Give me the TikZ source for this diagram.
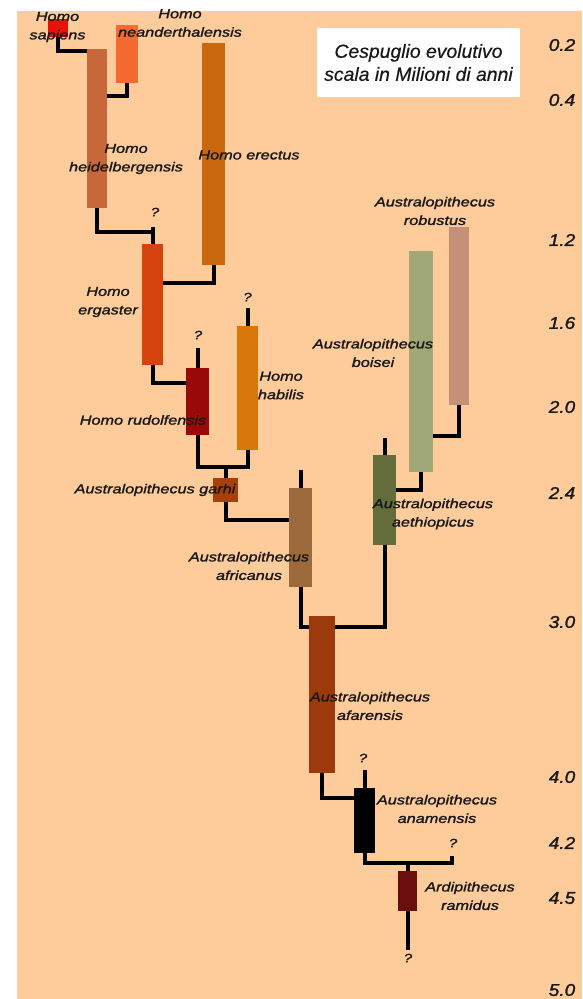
\documentclass[tikz,border=0pt]{standalone}
\usepackage{fontspec}
\setmainfont{Liberation Sans}
\newfontfamily\labf[FakeStretch=1.25,FakeBold=1.6]{Liberation Sans}
\newfontfamily\sclf[FakeStretch=1.12,FakeBold=1.4]{Liberation Sans}
\newfontfamily\titf[FakeStretch=1.02,FakeBold=0.5]{Liberation Sans}
\usetikzlibrary{calc,backgrounds}
\definecolor{bgpeach}{HTML}{FECB9A}
\definecolor{txtc}{HTML}{181818}
\definecolor{csap}{HTML}{E8100A}
\definecolor{cnea}{HTML}{F46A30}
\definecolor{cheid}{HTML}{C8683A}
\definecolor{cerec}{HTML}{C9680E}
\definecolor{cerg}{HTML}{D4420E}
\definecolor{crud}{HTML}{9A0A0A}
\definecolor{chab}{HTML}{D8780A}
\definecolor{cgar}{HTML}{A8400A}
\definecolor{cafr}{HTML}{9C6A3A}
\definecolor{cafa}{HTML}{9C3A0C}
\definecolor{cana}{HTML}{000000}
\definecolor{cram}{HTML}{6A0E0E}
\definecolor{cboi}{HTML}{A0A878}
\definecolor{crob}{HTML}{C49078}
\definecolor{caeth}{HTML}{646C3C}
\begin{document}
\begin{tikzpicture}[x=1pt,y=-1pt,
  box/.style={rectangle,draw=none,inner sep=0pt,outer sep=0pt},
  conn/.style={line width=4pt,black},
  lab/.style={font=\labf\itshape\fontsize{13}{18.5}\selectfont,text=txtc,align=center,inner sep=0pt},
  qm/.style={font=\labf\itshape\fontsize{12}{12}\selectfont,text=txtc,inner sep=0pt},
  scl/.style={font=\sclf\itshape\fontsize{17}{18}\selectfont,text=txtc,inner sep=0pt}]
\useasboundingbox (0,0) rectangle (582,999);
% boxes
\node[box,fill=csap, minimum width=20pt,minimum height=18pt]  (sap)  at (58,28) {};
\node[box,fill=cnea, minimum width=22pt,minimum height=58pt]  (nea)  at (127,54) {};
\node[box,fill=cheid,minimum width=20pt,minimum height=159pt] (heid) at (97,128.5) {};
\node[box,fill=cerec,minimum width=23pt,minimum height=222pt] (erec) at (213.5,154) {};
\node[box,fill=cerg, minimum width=21pt,minimum height=121pt] (erg)  at (152.5,304.5) {};
\node[box,fill=crud, minimum width=23pt,minimum height=67pt]  (rud)  at (197.5,401.5) {};
\node[box,fill=chab, minimum width=21pt,minimum height=124pt] (hab)  at (247.5,388) {};
\node[box,fill=cgar, minimum width=25pt,minimum height=24pt]  (gar)  at (225.5,490) {};
\node[box,fill=cafr, minimum width=23pt,minimum height=99pt]  (afr)  at (300.5,537.5) {};
\node[box,fill=caeth,minimum width=23pt,minimum height=90pt]  (aeth) at (384.5,500) {};
\node[box,fill=cboi, minimum width=24pt,minimum height=221pt] (boi)  at (421,361.5) {};
\node[box,fill=crob, minimum width=20pt,minimum height=178pt] (rob)  at (459,316) {};
\node[box,fill=cafa, minimum width=26pt,minimum height=157pt] (afa)  at (322,694.5) {};
\node[box,fill=cana, minimum width=21pt,minimum height=65pt]  (ana)  at (364.5,820.5) {};
\node[box,fill=cram, minimum width=19pt,minimum height=40pt]  (ram)  at (407.5,891) {};
% coordinates
\coordinate (qerg) at (152.5,227);
\coordinate (qrud) at (197.5,348);
\coordinate (qhab) at (247.5,308);
\coordinate (qafr) at (300.5,470);
\coordinate (qaeth) at (384.5,438);
\coordinate (qana) at (364.5,770);
\coordinate (qrt) at (452,856);
\coordinate (qram) at (407.5,950);
\coordinate (j1) at (225.5,467);
\coordinate (j2) at (322,627);
\coordinate (j3) at (407.5,863);
\begin{scope}[on background layer]
\fill[white] (0,0) rectangle (582,999);
\fill[bgpeach] (17,11) rectangle (582,999);
\draw[conn] (sap.south) |- ($(heid.north west)+(0,2)$);
\draw[conn] (nea.south) |- ($(heid.north east)+(0,47)$);
\draw[conn] (heid.south) |- ($(erg.north)+(2,-12)$);
\draw[conn] (erg.north) -- (qerg);
\draw[conn] (erec.south) |- ($(erg.north east)+(0,39)$);
\draw[conn] (erg.south) |- ($(rud.north west)+(0,15)$);
\draw[conn] (rud.north) -- (qrud);
\draw[conn] (hab.north) -- (qhab);
\draw[conn] (rud.south) |- (j1) -| (hab.south);
\draw[conn] (gar.north) -- (j1);
\draw[conn] (gar.south) |- ($(afr.north west)+(0,32)$);
\draw[conn] (afr.north) -- (qafr);
\draw[conn] (aeth.north) -- (qaeth);
\draw[conn] (rob.south) |- ($(boi.north east)+(0,185)$);
\draw[conn] (boi.south) |- ($(aeth.north east)+(0,35)$);
\draw[conn] (afr.south) |- (j2) -| (aeth.south);
\draw[conn] (afa.south) |- ($(ana.north west)+(0,10)$);
\draw[conn] (ana.north) -- (qana);
\draw[conn] (ana.south) |- (j3) -| (qrt);
\draw[conn] (ram.north) -- (j3);
\draw[conn] (ram.south) -- (qram);
\end{scope}
% title
\node[box,fill=white,minimum width=203pt,minimum height=69pt,align=center,
  font=\titf\itshape\fontsize{19}{23}\selectfont,text=txtc] (title) at (418.5,62.5)
  {Cespuglio evolutivo\\scala in Milioni di anni};
% labels
\node[lab] (lsap)  at (57.5,27)  {Homo\\sapiens};
\node[lab] (lnea)  at (180,23)   {Homo\\neanderthalensis};
\node[lab] (lheid) at (126,159)  {Homo\\heidelbergensis};
\node[lab] (lerec) at (249,155)  {Homo erectus};
\node[lab] (lerg)  at (108,302)  {Homo\\ergaster};
\node[lab] (lrud)  at (143,420)  {Homo rudolfensis};
\node[lab] (lhab)  at (281,385.5){Homo\\habilis};
\node[lab] (lgar)  at (155,490)  {Australopithecus garhi};
\node[lab] (lafr)  at (249,566)  {Australopithecus\\africanus};
\node[lab] (lboi)  at (373,353)  {Australopithecus\\boisei};
\node[lab] (lrob)  at (435,211)  {Australopithecus\\robustus};
\node[lab] (laeth) at (433,514)  {Australopithecus\\aethiopicus};
\node[lab] (lafa)  at (370,706)  {Australopithecus\\afarensis};
\node[lab] (lana)  at (437,809)  {Australopithecus\\anamensis};
\node[lab] (lram)  at (470,896)  {Ardipithecus\\ramidus};
% question marks
\node[qm] (t1) at (155,212) {?};
\node[qm] (t2) at (198,335) {?};
\node[qm] (t3) at (247.5,297) {?};
\node[qm] (t4) at (363,758) {?};
\node[qm] (t5) at (453,843) {?};
\node[qm] (t6) at (408,958) {?};
% scale
\node[scl] (s1) at (562,45)  {0.2};
\node[scl] (s2) at (562,100) {0.4};
\node[scl] (s3) at (562,240) {1.2};
\node[scl] (s4) at (562,323) {1.6};
\node[scl] (s5) at (562,407) {2.0};
\node[scl] (s6) at (562,493) {2.4};
\node[scl] (s7) at (562,622) {3.0};
\node[scl] (s8) at (562,777) {4.0};
\node[scl] (s9) at (562,843) {4.2};
\node[scl] (s10) at (562,898) {4.5};
\node[scl] (s11) at (562,990) {5.0};
\end{tikzpicture}
\end{document}
